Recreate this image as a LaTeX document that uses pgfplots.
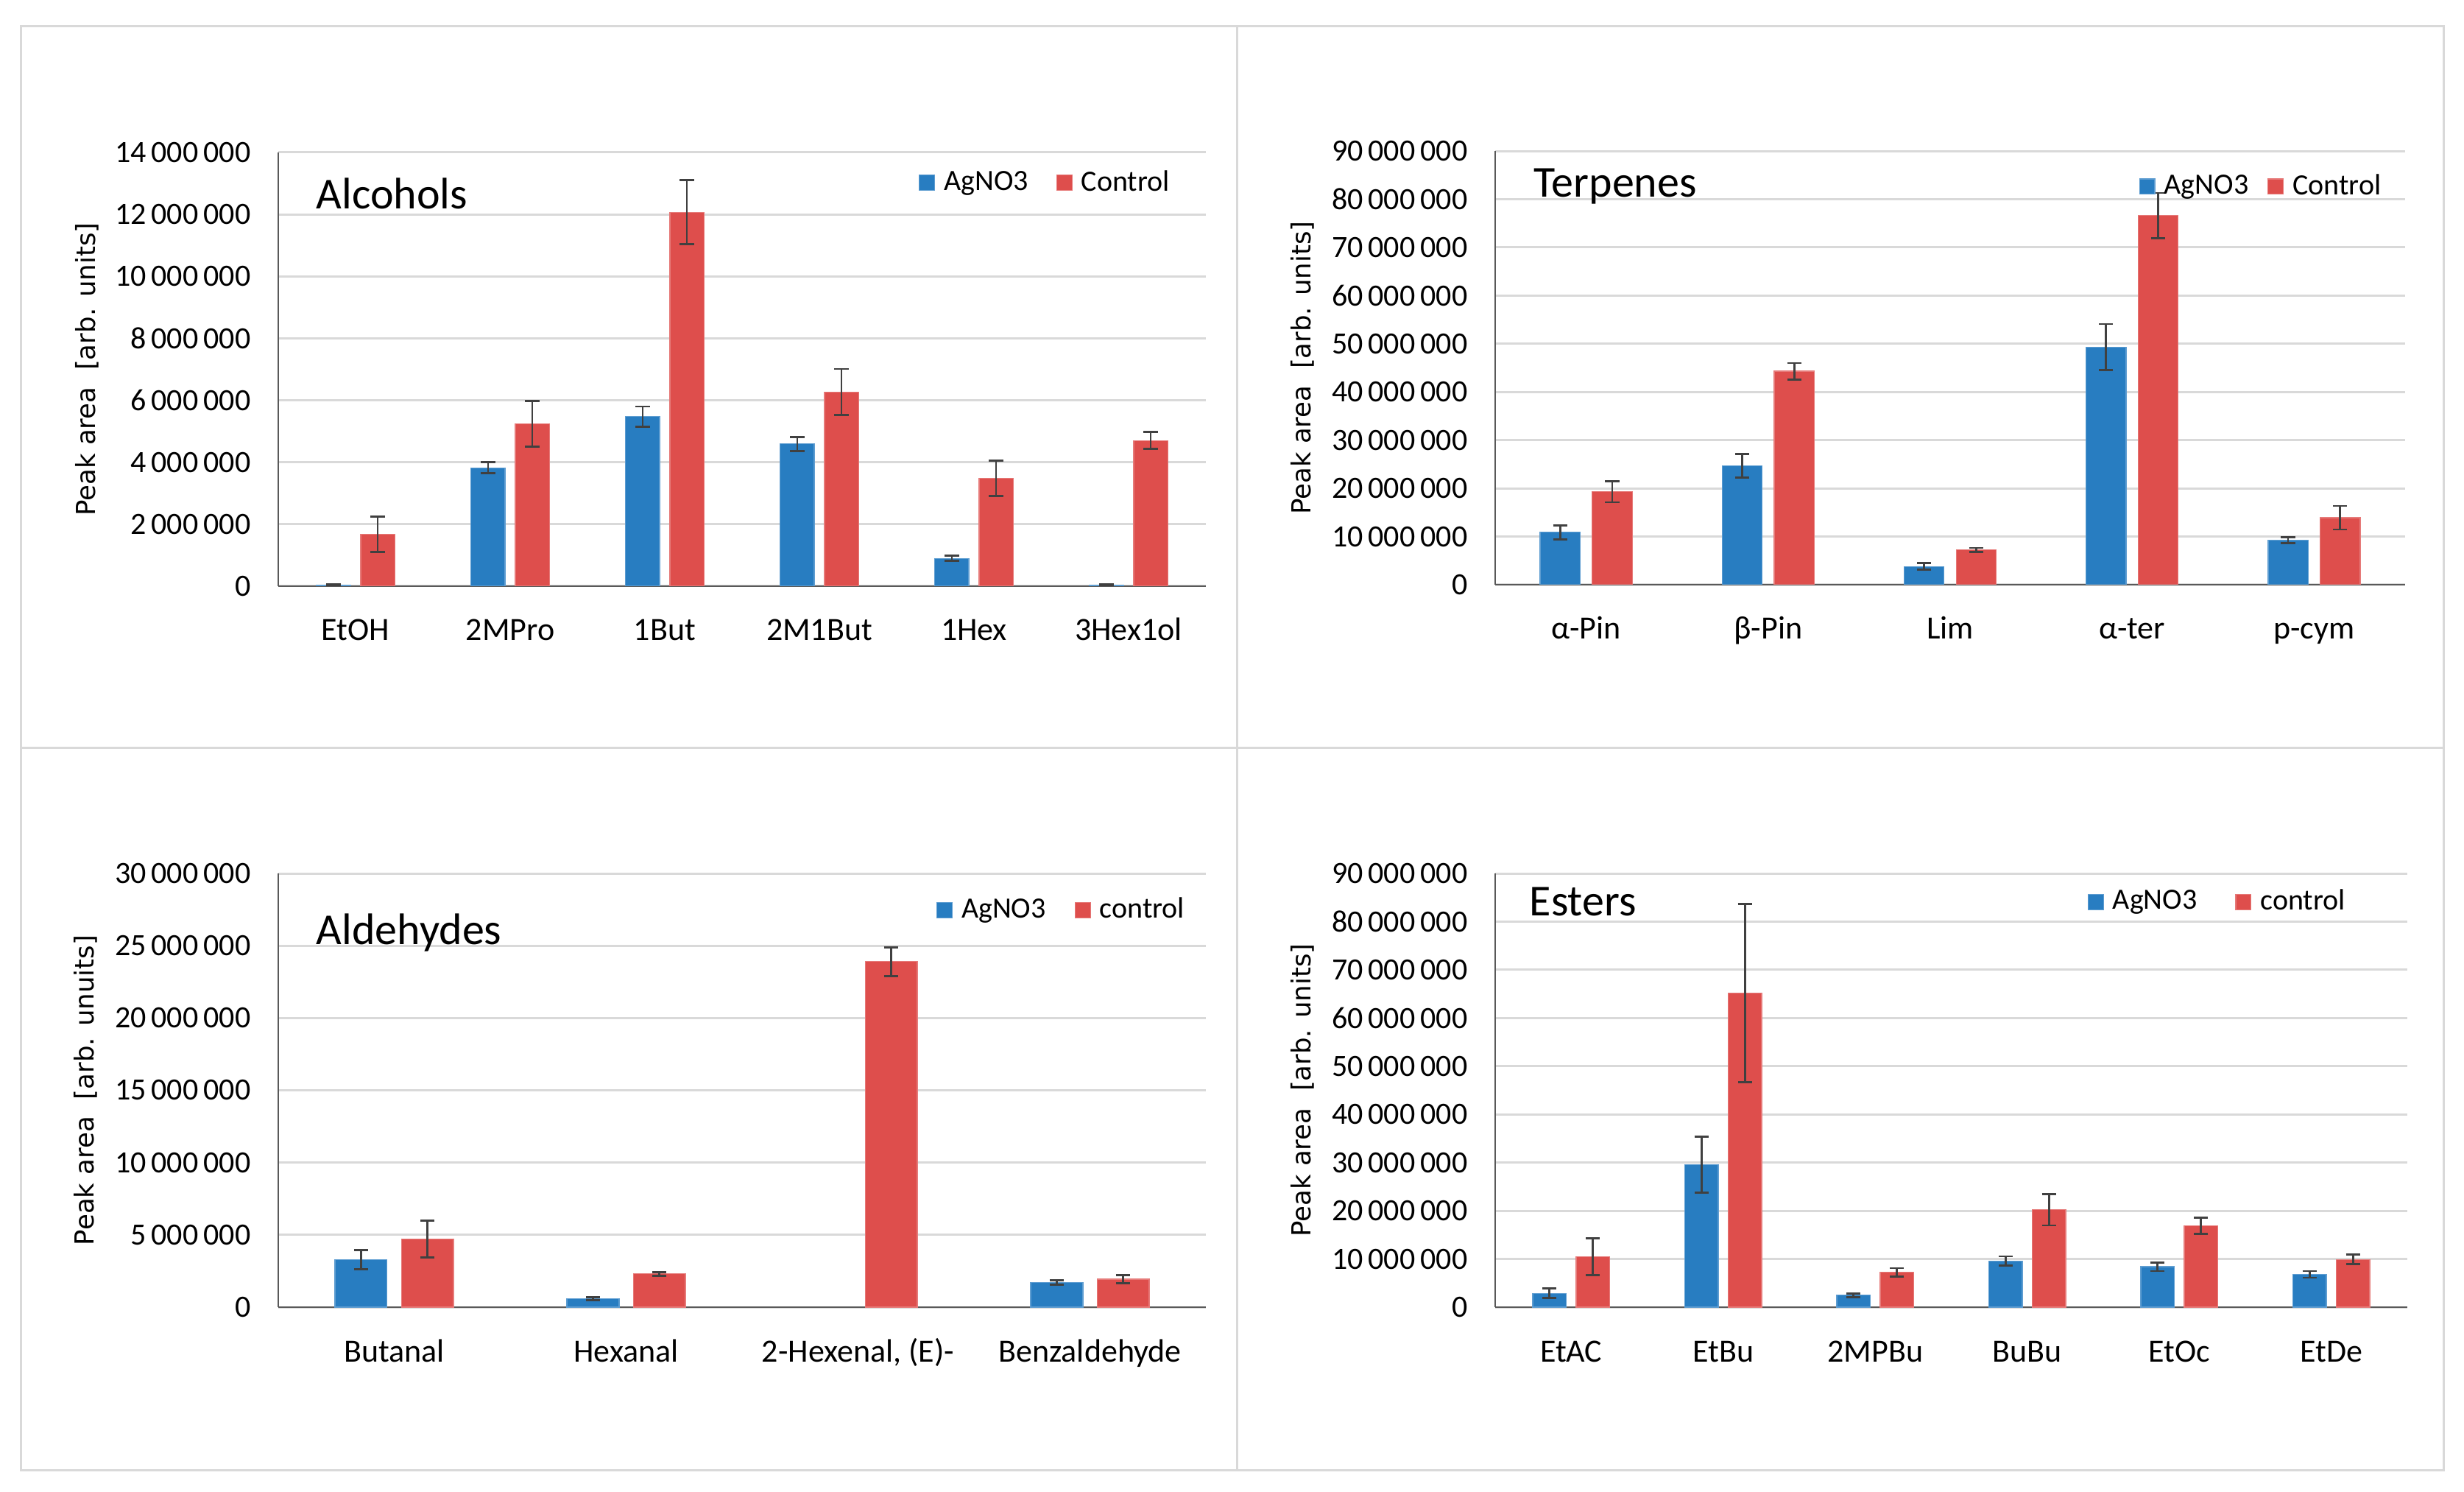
\documentclass[border=0pt]{standalone}
\usepackage{fontspec}
\setmainfont{Carlito}
\newfontfamily\labelfont{DejaVu Sans}
\usepackage{pgfplots}
\usepackage{pgfplotstable}
\pgfplotsset{compat=1.18}

\definecolor{agblue}{RGB}{40,125,193}
\definecolor{ctred}{RGB}{222,78,76}
\definecolor{framegray}{RGB}{217,217,217}
\definecolor{gridgray}{RGB}{217,217,217}
\definecolor{axisgray}{RGB}{89,89,89}
\definecolor{errgray}{RGB}{64,64,64}

% columns: category, AgNO3 mean, AgNO3 error, control mean, control error
\pgfplotstableread{
x ag agerr ct cterr
0 30000 20000 1670000 570000
1 3820000 180000 5240000 730000
2 5470000 330000 12070000 1030000
3 4590000 220000 6270000 740000
4 900000 80000 3490000 570000
5 30000 20000 4700000 270000
}\alcohols

\pgfplotstableread{
x ag agerr ct cterr
0 10900000 1450000 19300000 2200000
1 24700000 2450000 44300000 1700000
2 3800000 700000 7200000 450000
3 49300000 4800000 76600000 4700000
4 9200000 600000 13900000 2450000
}\terpenes

\pgfplotstableread{
x ag agerr ct cterr
0 3290000 660000 4700000 1270000
1 590000 100000 2300000 130000
2 nan nan 23900000 1000000
3 1710000 160000 1940000 280000
}\aldehydes

\pgfplotstableread{
x ag agerr ct cterr
0 2860000 1000000 10500000 3850000
1 29600000 5800000 65200000 18500000
2 2470000 400000 7200000 900000
3 9600000 950000 20200000 3250000
4 8400000 900000 16900000 1700000
5 6800000 700000 9900000 1000000
}\esters

\pgfplotsset{
  panel/.style={
    scale only axis, height=147.25pt,
    anchor=south west,
    ybar, bar width=0.22, ymin=0,
    axis x line*=bottom, axis y line*=left,
    axis line style={draw=axisgray, line width=0.7pt, -},
    ymajorgrids, grid style={draw=gridgray, line width=0.75pt},
    major tick length=0pt,
    xtick style={draw=none}, ytick style={draw=none},
    scaled y ticks=false,
    /pgf/number format/.cd, fixed, 1000 sep={\,}, assume math mode=true, /pgfplots/.cd,
    yticklabel style={anchor=east, inner sep=0pt, xshift=-9.2pt,
      font=\fontsize{10.5}{12}\selectfont},
    xticklabel style={anchor=base, inner sep=0pt, yshift=-18.5pt,
      font=\fontsize{11}{13}\selectfont},
    every axis y label/.style={rotate=90, anchor=center,
      font=\labelfont\fontsize{8.9}{11}\selectfont},
    legend columns=2,
    legend cell align=left,
    legend image code/.code={\fill[##1] (0pt,-2.6pt) rectangle (5.2pt,2.6pt);},
    legend style={draw=none, fill=none, inner sep=0pt, anchor=west,
      font=\fontsize{10}{12}\selectfont,
      nodes={inner sep=0pt},
      /tikz/every odd column/.append style={column sep=3pt}},
  },
  errs/.style={error bars/.cd, y dir=both, y explicit,
    error mark=|,
    error bar style={draw=errgray, line width=0.7pt},
    error mark options={draw=errgray, line width=0.7pt, mark size=2.4pt}},
  ag/.style={fill=agblue, draw=agblue!75!white, line width=0.3pt, bar shift=-0.143, errs},
  ct/.style={fill=ctred, draw=ctred!75!white, line width=0.3pt, bar shift=0.143, errs},
}

\begin{document}
\begin{tikzpicture}
\path[use as bounding box, fill=white] (0,0) rectangle (836.75pt,506.25pt);
% panel frame
\draw[framegray, line width=0.75pt] (7pt,7.25pt) rectangle (829.75pt,497.25pt);
\draw[framegray, line width=0.75pt] (420pt,7.25pt) -- (420pt,497.25pt);
\draw[framegray, line width=0.75pt] (7pt,252.25pt) -- (829.75pt,252.25pt);

% Alcohols
\begin{axis}[panel, at={(94.5pt,307.25pt)}, width=315pt,
  xmin=-0.5, xmax=5.5, ymax=14000000,
  ytick={0,2000000,4000000,6000000,8000000,10000000,12000000,14000000},
  xtick={0,1,2,3,4,5},
  xticklabels={EtOH,2MPro,1But,2M1But,1Hex,3Hex1ol},
  ylabel={Peak area \ [arb. units]},
  ylabel style={at={(axis description cs:-0.2063,0.5)}},
  legend style={at={(0.69,0.93)},
    /tikz/every even column/.append style={column sep=9.5pt}}]
\addplot+[ag] table[x=x, y=ag, y error=agerr] {\alcohols};
\addplot+[ct] table[x=x, y=ct, y error=cterr] {\alcohols};
\legend{AgNO3, Control}
\end{axis}

% Terpenes
\begin{axis}[panel, at={(507.75pt,307.75pt)}, width=309pt,
  xmin=-0.5, xmax=4.5, ymax=90000000,
  ytick={0,10000000,20000000,30000000,40000000,50000000,60000000,70000000,80000000,90000000},
  xtick={0,1,2,3,4},
  xticklabels={α-Pin,β-Pin,Lim,α-ter,p-cym},
  ylabel={Peak area \ [arb. units]},
  ylabel style={at={(axis description cs:-0.212,0.5)}},
  legend style={at={(0.707,0.918)},
    /tikz/every even column/.append style={column sep=6.5pt}}]
\addplot+[ag] table[x=x, y=ag, y error=agerr] {\terpenes};
\addplot+[ct] table[x=x, y=ct, y error=cterr] {\terpenes};
\legend{AgNO3, Control}
\end{axis}

% Aldehydes
\begin{axis}[panel, at={(94.5pt,62.5pt)}, width=315pt,
  xmin=-0.5, xmax=3.5, ymax=30000000, bar width=0.225,
  ytick={0,5000000,10000000,15000000,20000000,25000000,30000000},
  xtick={0,1,2,3},
  xticklabels={Butanal,Hexanal,{2-Hexenal, (E)-},Benzaldehyde},
  ylabel={Peak area \ [arb. unuits]},
  ylabel style={at={(axis description cs:-0.2079,0.5)}},
  legend style={at={(0.709,0.915)},
    /tikz/every even column/.append style={column sep=9.75pt}}]
\addplot+[ag] table[x=x, y=ag, y error=agerr] {\aldehydes};
\addplot+[ct] table[x=x, y=ct, y error=cterr] {\aldehydes};
\legend{AgNO3, control}
\end{axis}

% Esters
\begin{axis}[panel, at={(507.75pt,62.5pt)}, width=309.75pt,
  xmin=-0.5, xmax=5.5, ymax=90000000,
  ytick={0,10000000,20000000,30000000,40000000,50000000,60000000,70000000,80000000,90000000},
  xtick={0,1,2,3,4,5},
  xticklabels={EtAC,EtBu,2MPBu,BuBu,EtOc,EtDe},
  ylabel={Peak area \ [arb. units]},
  ylabel style={at={(axis description cs:-0.2115,0.5)}},
  legend style={at={(0.649,0.934)},
    /tikz/every even column/.append style={column sep=13pt}}]
\addplot+[ag] table[x=x, y=ag, y error=agerr] {\esters};
\addplot+[ct] table[x=x, y=ct, y error=cterr] {\esters};
\legend{AgNO3, control}
\end{axis}

% panel titles
\begin{scope}[every node/.style={anchor=base west, inner sep=0pt, font=\fontsize{15}{18}\selectfont}]
\node at (107.25pt,435.25pt) {Alcohols};
\node at (520.75pt,439.25pt) {Terpenes};
\node at (107.25pt,185.75pt) {Aldehydes};
\node at (519.25pt,195.5pt) {Esters};
\end{scope}
\end{tikzpicture}
\end{document}
